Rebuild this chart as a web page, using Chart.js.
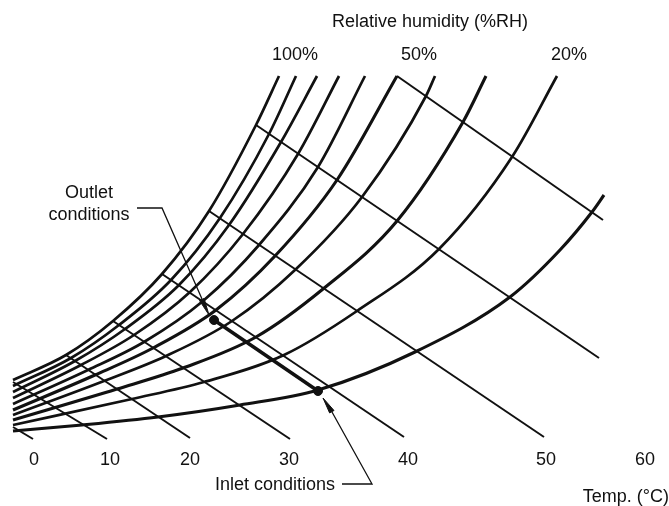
<!DOCTYPE html>
<html>
<head>
<meta charset="utf-8">
<script src="https://cdn.jsdelivr.net/npm/chart.js@4.4.0/dist/chart.umd.min.js"></script>
<style>
  html, body { margin: 0; padding: 0; background: #fff; }
  #wrap { width: 669px; height: 506px; }
</style>
</head>
<body>
<div id="wrap"><canvas id="chart" width="669" height="506"></canvas></div>
<script>
// chart units: x = position along the temperature direction, y = humidity height above the base line
const tempLabels = ['0', '10', '20', '30', '40', '50', '60'];
const tempTickPos = [34, 110, 190, 289, 408, 546, 645];
const rhLabels = ['100%', '50%', '20%'];
const rhTickPos = [295, 419, 569];

// relative humidity curves
const rh100 = [[13, 66], [66, 91], [113, 125], [162, 172], [209, 235], [256, 321], [279, 370]];
const rh90 = [[13, 60], [71, 88], [119, 121], [171, 166], [220, 228], [269, 312], [296, 370]];
const rh80 = [[13, 54], [75, 85], [125, 117], [179, 161], [229, 221], [281, 304], [317, 370]];
const rh70 = [[13, 48], [81, 81], [134, 111], [190, 154], [243, 212], [298, 292], [339, 370]];
const rh60 = [[13, 42], [88, 76], [144, 104], [203, 145], [259, 201], [318, 279], [365, 370]];
const rh50 = [[13, 36], [95, 71], [153, 98], [216, 136], [275, 190], [337, 266], [397, 370]];
const rh40 = [[13, 31], [104, 65], [166, 90], [232, 125], [295, 176], [362, 249], [426, 350], [435, 370]];
const rh30 = [[13, 26], [117, 57], [183, 78], [256, 109], [323, 157], [397, 225], [463, 324], [486, 370]];
const rh20 = [[13, 21], [132, 47], [204, 64], [284, 91], [357, 135], [439, 197], [512, 289], [557, 370]];
const rh10 = [[13, 15], [82, 21], [158, 29], [240, 41], [318, 56], [415, 94], [510, 149], [560, 196], [592, 234], [604, 251]];

// wet-bulb lines (start on the saturation curve, end at the temperature scale)
const wb0 = [[13, 19], [33, 7]];
const wb10 = [[13, 64], [107, 7]];
const wb20 = [[66, 91], [190, 8]];
const wb30 = [[113, 125], [290, 7]];
const wb40 = [[162, 172], [404, 9]];
const wb50 = [[209, 235], [544, 9]];
const wb60 = [[256, 321], [599, 88]];
const wb70 = [[397, 370], [603, 226]];

// process: outlet and inlet states
const outletPoint = [214, 126];
const inletPoint = [318, 55];

// callouts
const outletLeader = [[137, 238], [162, 238], [202, 147]];
const outletArrow = [[199.5, 145.5], [209, 131], [204.1, 147.5], [199.5, 145.5]];
const inletLeader = [[342, -38], [372, -38], [332, 34]];
const inletArrow = [[334, 35.5], [323, 48], [329.6, 33.1], [334, 35.5]];

const titleText = 'Relative humidity (%RH)';
const outletText = ['Outlet', 'conditions'];
const inletText = 'Inlet conditions';

const ink = '#111111';
const toXY = arr => arr.map(p => ({ x: p[0], y: p[1] }));

function curve(arr, w) {
  return { data: toXY(arr), showLine: true, borderColor: ink, borderWidth: w,
    pointRadius: 0, cubicInterpolationMode: 'monotone' };
}
function straight(arr, w) {
  return { data: toXY(arr), showLine: true, borderColor: ink, borderWidth: w,
    pointRadius: 0, tension: 0, clip: false };
}

const datasets = [];
[rh100, rh90, rh80, rh70, rh60, rh40, rh20].forEach(c => datasets.push(curve(c, 2.7)));
[rh50, rh30, rh10].forEach(c => datasets.push(curve(c, 3.1)));
[wb0, wb10, wb20, wb30, wb40, wb50, wb60, wb70].forEach(l => datasets.push(straight(l, 2)));
datasets.push(straight([outletPoint, inletPoint], 3.5));
datasets.push(straight(outletLeader, 1.3));
datasets.push(straight(inletLeader, 1.3));
datasets.push(Object.assign(straight(outletArrow, 1), { fill: 'shape', backgroundColor: ink }));
datasets.push(Object.assign(straight(inletArrow, 1), { fill: 'shape', backgroundColor: ink }));
datasets.push({ data: toXY([outletPoint, inletPoint]), showLine: false, pointRadius: 4.5,
  pointBackgroundColor: ink, pointBorderColor: ink, clip: false });

const fontFamily = "'Liberation Sans', Arial, sans-serif";

const textPlugin = {
  id: 'calloutText',
  afterDraw(chart) {
    const { ctx, scales } = chart;
    const px = v => scales.x.getPixelForValue(v);
    const py = v => scales.y.getPixelForValue(v);
    ctx.save();
    ctx.fillStyle = ink;
    ctx.font = '18px ' + fontFamily;
    ctx.textAlign = 'center';
    ctx.textBaseline = 'middle';
    ctx.fillText(titleText, px(430), py(424));
    ctx.fillText(outletText[0], px(89), py(253));
    ctx.fillText(outletText[1], px(89), py(231));
    ctx.fillText(inletText, px(275), py(-39));
    ctx.restore();
  }
};

Chart.defaults.font.family = fontFamily;
Chart.defaults.color = ink;

new Chart(document.getElementById('chart'), {
  type: 'scatter',
  data: { datasets: datasets },
  options: {
    responsive: false,
    animation: false,
    layout: { padding: 0, autoPadding: false },
    plugins: { legend: { display: false }, tooltip: { enabled: false } },
    scales: {
      x: {
        type: 'linear', position: 'bottom', min: 0, max: 669,
        grid: { display: false, drawTicks: false }, border: { display: false },
        afterBuildTicks: s => { s.ticks = tempTickPos.map(v => ({ value: v })); },
        afterFit: s => { s.height = 60; },
        ticks: { autoSkip: false, maxRotation: 0, padding: 3, font: { size: 18 },
          callback: (v, i) => tempLabels[i] },
        title: { display: true, text: 'Temp. (°C)', align: 'end', font: { size: 18, lineHeight: 1 },
          padding: { top: 0, bottom: 0 } }
      },
      xTop: {
        type: 'linear', position: 'top', min: 0, max: 669,
        grid: { display: false, drawTicks: false }, border: { display: false },
        afterBuildTicks: s => { s.ticks = rhTickPos.map(v => ({ value: v })); },
        afterFit: s => { s.height = 70; },
        ticks: { autoSkip: false, maxRotation: 0, padding: 4, font: { size: 18 },
          callback: (v, i) => rhLabels[i] }
      },
      y: { type: 'linear', display: false, min: 0, max: 376 }
    }
  },
  plugins: [textPlugin]
});
</script>
</body>
</html>
